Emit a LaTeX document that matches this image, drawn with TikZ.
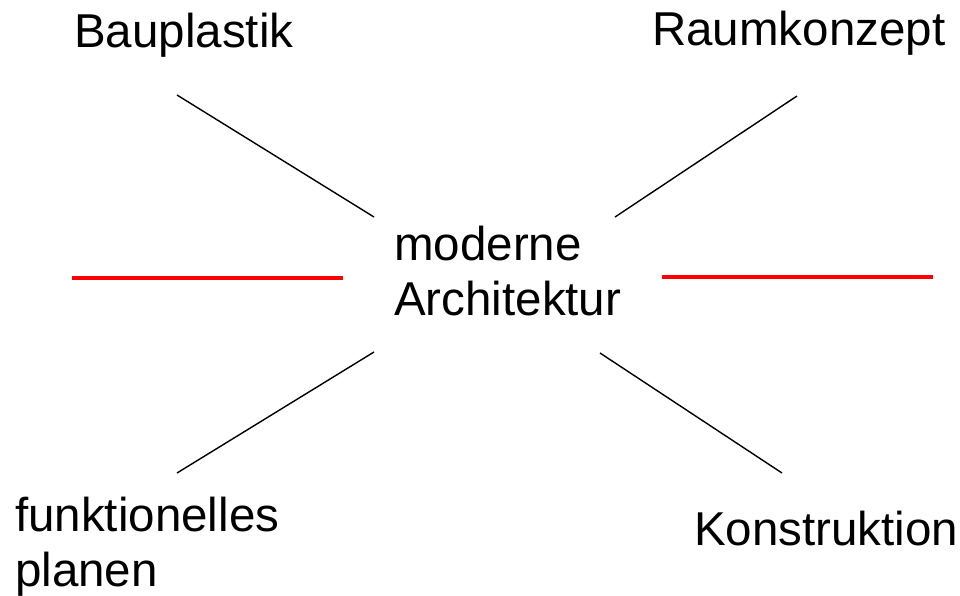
\documentclass[tikz,border=0pt]{standalone}
\usepackage{fontspec}
\setmainfont{Liberation Sans}
\begin{document}
\begin{tikzpicture}[x=1pt,y=-1pt,
  label/.style={anchor=base west,inner sep=0pt,font=\fontsize{47.5}{55}\selectfont,align=left},
  spoke/.style={draw=black,line width=1.4pt},
  redbar/.style={draw=red,line width=4pt}]
\useasboundingbox (0,0) rectangle (960,595);

% labels (multi-line labels are placed by their last baseline)
\node[label] (bau) at (74,47) {Bauplastik};
\node[label] (raum) at (652,45) {Raumkonzept};
\node[label] (center) at (394,315) {moderne\\Architektur};
\node[label] (funk) at (15,586) {funktionelles\\planen};
\node[label] (kon) at (694,545) {Konstruktion};

% spoke end points
\coordinate (bauA) at (177,95);  \coordinate (bauB) at (374,217);
\coordinate (raumA) at (797,96); \coordinate (raumB) at (615,217);
\coordinate (funkA) at (374,352); \coordinate (funkB) at (177,473);
\coordinate (konA) at (600,353); \coordinate (konB) at (782,473);
\coordinate (redLA) at (72,278); \coordinate (redLB) at (343,278);
\coordinate (redRA) at (662,277); \coordinate (redRB) at (933,277);

% connectors
\draw[spoke] (bauA) -- (bauB);
\draw[spoke] (raumA) -- (raumB);
\draw[spoke] (funkA) -- (funkB);
\draw[spoke] (konA) -- (konB);
\draw[redbar] (redLA) -- (redLB);
\draw[redbar] (redRA) -- (redRB);
\end{tikzpicture}
\end{document}
